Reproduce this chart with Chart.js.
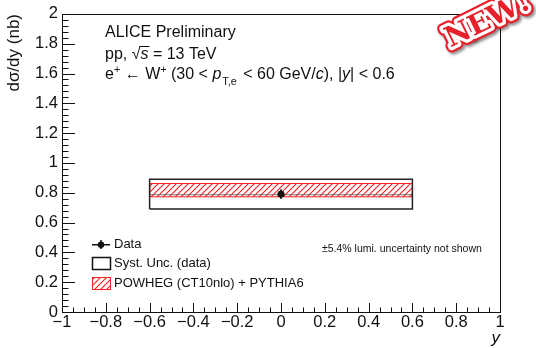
<!DOCTYPE html>
<html>
<head>
<meta charset="utf-8">
<script src="https://cdn.jsdelivr.net/npm/chart.js@4"></script>
<style>
  html, body { margin: 0; padding: 0; background: #fff; }
  #wrap { width: 536px; height: 348px; }
</style>
</head>
<body>
<div id="wrap"><canvas id="chart" width="536" height="348"></canvas></div>
<script>
// W+ -> e+ cross section at midrapidity
const xRange = [-1, 1];
const yRange = [0, 2];
const dataX = [0];
const dataY = [0.791];
const dataStat = [0.033];
const systEdges = [-0.6, 0.6];
const systLo = [0.691];
const systHi = [0.891];
const powhegLo = [0.773];
const powhegHi = [0.862];
const powhegLine = [0.787];

const FONT = '"Liberation Sans", Arial, sans-serif';
const RED = "rgb(255,30,30)";

// hatch pattern for the theory band
function hatch() {
  const c = document.createElement("canvas");
  c.width = 6; c.height = 6;
  const g = c.getContext("2d");
  g.strokeStyle = RED;
  g.lineWidth = 1.1;
  g.beginPath();
  g.moveTo(-1, 7); g.lineTo(7, -1);
  g.moveTo(-4, 4); g.lineTo(4, -4);
  g.moveTo(2, 10); g.lineTo(10, 2);
  g.stroke();
  return g.createPattern(c, "repeat");
}
const hatchFill = hatch();

function box(x0, x1, lo, hi) {
  return [{x: x0, y: lo}, {x: x1, y: lo}, {x: x1, y: hi}, {x: x0, y: hi}, {x: x0, y: lo}];
}

// text with italic / sub / sup pieces
function runs(ctx, x, y, parts, size) {
  parts.forEach(p => {
    const s = (p.sub || p.sup) ? size * 0.68 : size;
    ctx.font = (p.it ? "italic " : "") + s + "px " + FONT;
    const dy = p.sub ? size * 0.42 : p.sup ? -size * 0.32 : 0;
    ctx.fillText(p.t, x, y + dy);
    const w = ctx.measureText(p.t).width;
    if (p.bar) {
      ctx.fillRect(x - 1, Math.round(y - size * 0.58), w + 2, 1);
    }
    x += w + (p.gap || 0);
  });
}

// theory band fill, clipped to its own box
const bandFill = {
  id: "bandFill",
  beforeDatasetsDraw(chart) {
    const ctx = chart.ctx;
    const xs = chart.scales.x, ys = chart.scales.y;
    const x0 = xs.getPixelForValue(systEdges[0]), x1 = xs.getPixelForValue(systEdges[1]);
    const y0 = ys.getPixelForValue(powhegHi[0]), y1 = ys.getPixelForValue(powhegLo[0]);
    ctx.save();
    ctx.fillStyle = hatchFill;
    ctx.fillRect(x0, y0, x1 - x0, y1 - y0);
    ctx.restore();
  }
};

const frame = {
  id: "frame",
  afterDraw(chart) {
    const ctx = chart.ctx;
    const a = chart.chartArea;
    const xs = chart.scales.x, ys = chart.scales.y;
    const L = Math.round(a.left), R = Math.round(a.right);
    const T = Math.round(a.top), B = Math.round(a.bottom);
    ctx.save();
    ctx.fillStyle = "#111";
    ctx.fillRect(L, T, R - L + 1, 1);
    ctx.fillRect(L, B, R - L + 1, 1);
    ctx.fillRect(L, T, 1, B - T + 1);
    ctx.fillRect(R, T, 1, B - T + 1);

    // ticks inside the frame
    for (let i = 0; i <= 50; i++) {
      const v = yRange[0] + i * 0.04;
      const py = Math.round(ys.getPixelForValue(v));
      const len = i % 5 === 0 ? 13 : 6.5;
      ctx.fillRect(L, py, len, 1);
    }
    for (let i = 0; i <= 40; i++) {
      const v = xRange[0] + i * 0.05;
      const px = Math.round(xs.getPixelForValue(v));
      const len = i % 4 === 0 ? 9 : 4.5;
      ctx.fillRect(px, B - len, 1, len);
    }

    // axis titles
    ctx.font = "17px " + FONT;
    ctx.save();
    ctx.translate(19, T);
    ctx.rotate(-Math.PI / 2);
    ctx.textAlign = "right";
    ctx.textBaseline = "alphabetic";
    ctx.fillText("dσ/dy (nb)", 0, 0);
    ctx.restore();
    ctx.font = "italic 17px " + FONT;
    ctx.textAlign = "right";
    ctx.textBaseline = "alphabetic";
    ctx.fillText("y", R, 343);

    // header
    ctx.textAlign = "left";
    ctx.textBaseline = "middle";
    ctx.font = "16px " + FONT;
    ctx.fillText("ALICE Preliminary", 105, 33);
    runs(ctx, 105, 55, [{t: "pp, "}, {t: "√"}, {t: "s", it: true, bar: true}, {t: " = 13 TeV"}], 16);
    runs(ctx, 105, 75, [
      {t: "e"}, {t: "+", sup: true}, {t: " ← W"}, {t: "+", sup: true},
      {t: " (30 < "}, {t: "p", it: true, gap: 1}, {t: "T,e", sub: true, gap: 2},
      {t: " < 60 GeV/"}, {t: "c", it: true}, {t: "), |"}, {t: "y", it: true}, {t: "| < 0.6"}
    ], 16);

    // legend
    ctx.font = "13px " + FONT;
    ctx.fillText("Data", 114, 244);
    ctx.fillText("Syst. Unc. (data)", 114, 263);
    ctx.fillText("POWHEG (CT10nlo) + PYTHIA6", 114, 283);
    ctx.fillRect(92, 244, 18, 1.5);
    ctx.fillRect(100.3, 240, 1.5, 9);
    ctx.beginPath();
    ctx.arc(101, 244.7, 3.2, 0, Math.PI * 2);
    ctx.fill();
    ctx.lineWidth = 1.5;
    ctx.strokeStyle = "#111";
    ctx.strokeRect(92.5, 257.5, 18, 12);
    ctx.fillStyle = hatchFill;
    ctx.fillRect(92.5, 277.5, 18, 12);
    ctx.lineWidth = 1;
    ctx.strokeStyle = RED;
    ctx.strokeRect(92.5, 277.5, 18, 12);

    ctx.fillStyle = "#111";
    ctx.font = "10.5px " + FONT;
    ctx.fillText("±5.4% lumi. uncertainty not shown", 322, 249);

    // stamp
    ctx.save();
    ctx.translate(488, 21);
    ctx.rotate(-26 * Math.PI / 180);
    ctx.font = "bold 28px 'DejaVu Serif', serif";
    ctx.textAlign = "center";
    ctx.textBaseline = "middle";
    ctx.lineJoin = "round";
    ctx.shadowColor = "rgba(0,0,0,0.45)";
    ctx.shadowBlur = 3;
    ctx.shadowOffsetX = 2;
    ctx.shadowOffsetY = 2;
    ctx.strokeStyle = "#e8202a";
    ctx.lineWidth = 11;
    ctx.strokeText("NEW!", 0, 0);
    ctx.shadowColor = "transparent";
    ctx.strokeStyle = "#fff";
    ctx.lineWidth = 6.5;
    ctx.strokeText("NEW!", 0, 0);
    ctx.fillStyle = "#e8202a";
    ctx.fillText("NEW!", 0, 0);
    ctx.restore();

    ctx.restore();
  }
};

new Chart(document.getElementById("chart"), {
  type: "scatter",
  data: {
    datasets: [
      {
        label: "POWHEG (CT10nlo) + PYTHIA6",
        data: box(systEdges[0], systEdges[1], powhegLo[0], powhegHi[0]),
        showLine: true,
        borderColor: RED,
        borderWidth: 1,
        fill: false,
        pointRadius: 0,
        order: 4
      },
      {
        label: "band",
        data: [{x: systEdges[0], y: powhegLine[0]}, {x: systEdges[1], y: powhegLine[0]}],
        showLine: true,
        borderColor: "rgba(90,90,90,0.8)",
        borderWidth: 1,
        pointRadius: 0,
        order: 3
      },
      {
        label: "Syst. Unc. (data)",
        data: box(systEdges[0], systEdges[1], systLo[0], systHi[0]),
        showLine: true,
        borderColor: "#222",
        borderWidth: 1.5,
        fill: false,
        pointRadius: 0,
        order: 2
      },
      {
        label: "stat",
        data: [{x: dataX[0], y: dataY[0] - dataStat[0]}, {x: dataX[0], y: dataY[0] + dataStat[0]}],
        showLine: true,
        borderColor: "#111",
        borderWidth: 1.5,
        pointRadius: 0,
        order: 1
      },
      {
        label: "Data",
        data: dataX.map((x, i) => ({x: x, y: dataY[i]})),
        pointRadius: 3.2,
        pointBackgroundColor: "#111",
        pointBorderColor: "#111",
        order: 0
      }
    ]
  },
  options: {
    responsive: false,
    animation: false,
    layout: { autoPadding: false, padding: { top: 12, right: 36, left: 0, bottom: 0 } },
    plugins: { legend: { display: false }, tooltip: { enabled: false } },
    scales: {
      x: {
        type: "linear",
        min: xRange[0], max: xRange[1],
        grid: { display: false, drawTicks: false },
        border: { display: false },
        afterFit: s => { s.height = 36; },
        ticks: {
          stepSize: 0.2,
          padding: 1,
          color: "#111",
          maxRotation: 0,
          font: { family: FONT, size: 16.5 },
          callback: v => {
            const r = Math.round(v * 10) / 10;
            return r < 0 ? "\u2212" + String(-r) : String(r);
          }
        }
      },
      y: {
        type: "linear",
        min: yRange[0], max: yRange[1],
        grid: { display: false, drawTicks: false },
        border: { display: false },
        afterFit: s => { s.width = 62; },
        ticks: {
          stepSize: 0.2,
          padding: 4,
          color: "#111",
          font: { family: FONT, size: 16.5 },
          callback: v => String(Math.round(v * 10) / 10)
        }
      }
    }
  },
  plugins: [bandFill, frame]
});
</script>
</body>
</html>
